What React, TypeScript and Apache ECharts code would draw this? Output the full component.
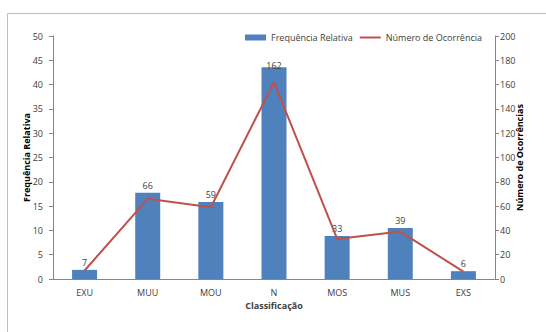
import React, { useEffect, useRef } from "react";
import * as echarts from "echarts";

const categories = ["EXU", "MUU", "MOU", "N", "MOS", "MUS", "EXS"];
// relative frequency (%) per class
const relativeFreq = [1.88, 17.74, 15.86, 43.55, 8.87, 10.48, 1.61];
// number of occurrences per class
const occurrences = [7, 66, 59, 162, 33, 39, 6];

const leftTicks = { min: 0, max: 50, interval: 5 };
const rightTicks = { min: 0, max: 200, interval: 20 };

const FONT = "'Liberation Sans Narrow', 'Open Sans', 'Liberation Sans', sans-serif";
const AXIS_GREY = "#868686";
const TEXT = "#404040";

export default function App() {
  const ref = useRef<HTMLDivElement>(null);

  useEffect(() => {
    if (!ref.current) return;
    const chart = echarts.init(ref.current, null, { renderer: "svg" });
    chart.setOption({
      animation: false,
      backgroundColor: "#ffffff",
      textStyle: { fontFamily: FONT },
      graphic: [
        {
          type: "rect",
          shape: { x: 7.5, y: 13.5, width: 600, height: 400 },
          style: { fill: "none", stroke: "#bfbfbf", lineWidth: 1 },
          silent: true,
          z: -1,
        },
      ],
      legend: {
        left: 240,
        top: 28,
        itemWidth: 21,
        itemHeight: 6,
        itemGap: 6,
        textStyle: { fontSize: 9, color: TEXT, fontFamily: FONT },
        data: [
          { name: "Frequência Relativa", icon: "rect" },
          { name: "Número de Ocorrência", itemStyle: { opacity: 0 } },
        ],
      },
      grid: { left: 53, right: 51, top: 36, bottom: 53 },
      xAxis: {
        type: "category",
        data: categories,
        name: "Classificação",
        nameLocation: "middle",
        nameGap: 22,
        nameMoveOverlap: false,
        nameTextStyle: { fontSize: 9, fontWeight: "bold", color: TEXT, fontFamily: FONT },
        axisLine: { lineStyle: { color: AXIS_GREY } },
        axisTick: { show: false },
        axisLabel: { fontSize: 9, color: TEXT, margin: 9, fontFamily: FONT },
      },
      yAxis: [
        {
          type: "value",
          ...leftTicks,
          name: "Frequência Relativa",
          nameLocation: "middle",
          nameRotate: 90,
          nameGap: 22,
          nameMoveOverlap: false,
          nameTextStyle: { fontSize: 9, fontWeight: "bold", color: "#000", fontFamily: FONT },
          axisLine: { show: true, lineStyle: { color: AXIS_GREY } },
          axisTick: { show: true, length: 4, lineStyle: { color: AXIS_GREY } },
          splitLine: { show: false },
          axisLabel: { fontSize: 9, color: TEXT, margin: 10, fontFamily: FONT },
        },
        {
          type: "value",
          ...rightTicks,
          position: "right",
          name: "Número de Ocorrências",
          nameLocation: "middle",
          nameRotate: 90,
          nameGap: 20,
          nameMoveOverlap: false,
          nameTextStyle: { fontSize: 9, fontWeight: "bold", color: "#000", fontFamily: FONT },
          axisLine: { show: true, lineStyle: { color: AXIS_GREY } },
          axisTick: { show: true, length: 4, lineStyle: { color: AXIS_GREY } },
          splitLine: { show: false },
          axisLabel: { fontSize: 9, color: TEXT, margin: 5, fontFamily: FONT },
        },
      ],
      series: [
        {
          name: "Frequência Relativa",
          type: "bar",
          yAxisIndex: 0,
          barWidth: 25,
          itemStyle: { color: "#4F81BD" },
          label: {
            show: true,
            position: "top",
            distance: 3,
            fontSize: 9,
            color: TEXT,
            fontFamily: FONT,
            formatter: (p: any) => String(occurrences[p.dataIndex]),
          },
          data: relativeFreq.map((v, i) =>
            categories[i] === "N" ? { value: v, label: { offset: [0, 6] } } : v
          ),
          z: 2,
        },
        {
          name: "Número de Ocorrência",
          type: "line",
          yAxisIndex: 1,
          data: occurrences,
          symbol: "none",
          lineStyle: { color: "#C0504D", width: 2 },
          itemStyle: { color: "#C0504D" },
          z: 3,
        },
      ],
    });
    return () => chart.dispose();
  }, []);

  return (
    <div
      ref={ref}
      style={{ position: "fixed", left: 0, top: 0, width: 546, height: 332 }}
    />
  );
}
